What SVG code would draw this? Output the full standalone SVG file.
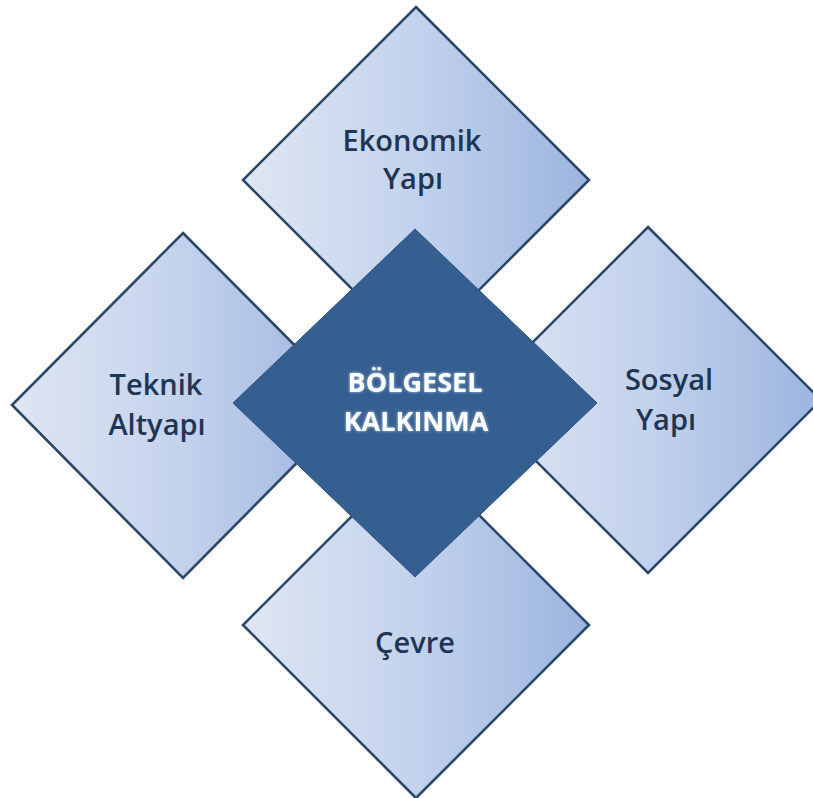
<svg xmlns="http://www.w3.org/2000/svg" width="813" height="798" viewBox="0 0 813 798">
<defs>
<linearGradient id="g" x1="0" y1="0" x2="1" y2="0">
<stop offset="0" stop-color="#DFE6F3"/>
<stop offset="0.5" stop-color="#C3D2EC"/>
<stop offset="1" stop-color="#9CB4DF"/>
</linearGradient>
<filter id="glow" x="-20%" y="-40%" width="140%" height="180%">
<feGaussianBlur in="SourceAlpha" stdDeviation="1.5" result="b"/>
<feFlood flood-color="#C6DBF7" flood-opacity="0.85"/>
<feComposite in2="b" operator="in" result="gl"/>
<feMerge><feMergeNode in="gl"/><feMergeNode in="SourceGraphic"/></feMerge>
</filter>
<style>
.outer{fill:url(#g);stroke:#2B4769;stroke-width:2.6;stroke-linejoin:miter}
.center{fill:#365F91;stroke:#2E5283;stroke-width:1}
.lbl{font-family:"Open Sans","Liberation Sans",sans-serif;font-weight:600;font-size:29px;fill:#1E3553;text-anchor:middle}
.clbl{font-family:"Open Sans","Liberation Sans",sans-serif;font-weight:700;font-size:27px;fill:#FFFFFF;text-anchor:middle;filter:url(#glow)}
</style>
</defs>
<g id="connectors"/>
<g id="node-ekonomik">
<polygon class="outer" points="416,7 589,180 416,353 243,180"/>
<text class="lbl" x="412" y="151">Ekonomik</text>
<text class="lbl" x="413" y="189">Yapı</text>
</g>
<g id="node-teknik">
<polygon class="outer" points="183,233 354,405 183,578 12,405"/>
<text class="lbl" x="156" y="395">Teknik</text>
<text class="lbl" x="157" y="435">Altyapı</text>
</g>
<g id="node-sosyal">
<polygon class="outer" points="648,227 821,400 648,573 475,400"/>
<text class="lbl" x="669" y="390">Sosyal</text>
<text class="lbl" x="666" y="430">Yapı</text>
</g>
<g id="node-cevre">
<polygon class="outer" points="416,452 589,625 416,798 243,625"/>
<text class="lbl" x="415" y="653">Çevre</text>
</g>
<g id="node-center">
<polygon class="center" points="415,229 597,403 415,577 233,403"/>
<text class="clbl" x="415" y="392">BÖLGESEL</text>
<text class="clbl" x="416" y="431">KALKINMA</text>
</g>
</svg>
